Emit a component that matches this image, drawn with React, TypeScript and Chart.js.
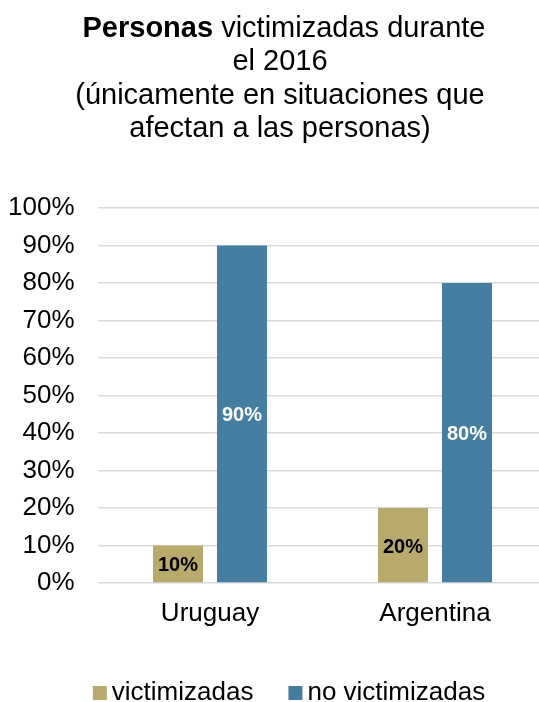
import React, { useEffect, useRef } from "react";
import { Chart, registerables } from "chart.js";

Chart.register(...registerables);

const categories = ["Uruguay", "Argentina"];
const seriesNames = ["victimizadas", "no victimizadas"];
const victimizadas = [10, 20];
const noVictimizadas = [90, 80];
const seriesColors = ["#B8A96C", "#467EA2"];
const labelColors = ["#000000", "#FFFFFF"];
const titleBold = "Personas";
const titleLines = [" victimizadas durante", "el 2016", "(únicamente en situaciones que", "afectan a las personas)"];

const FONT = '"Liberation Sans", Arial, sans-serif';
const VW = 539;
const W = 560;
const H = 702;

const titlePlugin = {
  id: "customTitle",
  afterDraw(chart: any) {
    const ctx = chart.ctx;
    const cx = 280;
    const baselines = [37, 70, 104, 137];
    ctx.save();
    ctx.fillStyle = "#000";
    ctx.textBaseline = "alphabetic";
    ctx.textAlign = "left";
    ctx.font = `bold 29px ${FONT}`;
    const wb = ctx.measureText(titleBold).width;
    ctx.font = `29px ${FONT}`;
    const wr = ctx.measureText(titleLines[0]).width;
    const x = 284 - (wb + wr) / 2;
    ctx.font = `bold 29px ${FONT}`;
    ctx.fillText(titleBold, x, baselines[0]);
    ctx.font = `29px ${FONT}`;
    ctx.fillText(titleLines[0], x + wb, baselines[0]);
    ctx.textAlign = "center";
    for (let i = 1; i < titleLines.length; i++) {
      ctx.fillText(titleLines[i], cx, baselines[i]);
    }
    ctx.restore();
  },
};

const dataLabelPlugin = {
  id: "dataLabels",
  afterDatasetsDraw(chart: any) {
    const ctx = chart.ctx;
    ctx.save();
    ctx.font = `bold 20px ${FONT}`;
    ctx.textAlign = "center";
    ctx.textBaseline = "middle";
    chart.data.datasets.forEach((ds: any, di: number) => {
      const meta = chart.getDatasetMeta(di);
      meta.data.forEach((bar: any, i: number) => {
        const v = ds.data[i];
        ctx.fillStyle = labelColors[di];
        ctx.fillText(`${v}%`, bar.x, (bar.y + bar.base) / 2 + 2);
      });
    });
    ctx.restore();
  },
};

const legendPlugin = {
  id: "customLegend",
  afterDraw(chart: any) {
    const ctx = chart.ctx;
    ctx.save();
    ctx.font = `26px ${FONT}`;
    ctx.textBaseline = "alphabetic";
    ctx.textAlign = "left";
    const box = 14;
    const boxGap = 5;
    const itemGap = 35;
    const widths = seriesNames.map((n) => ctx.measureText(n).width);
    const total = widths.reduce((a, w) => a + box + boxGap + w, 0) + itemGap * (seriesNames.length - 1);
    let x = 289 - total / 2;
    const baseline = 700;
    seriesNames.forEach((n, i) => {
      ctx.fillStyle = seriesColors[i];
      ctx.fillRect(x, baseline - box, box, box);
      ctx.fillStyle = "#000";
      ctx.fillText(n, x + box + boxGap, baseline);
      x += box + boxGap + widths[i] + itemGap;
    });
    ctx.restore();
  },
};

export default function App() {
  const ref = useRef<HTMLCanvasElement | null>(null);
  useEffect(() => {
    if (!ref.current) return;
    const chart = new Chart(ref.current, {
      type: "bar",
      data: {
        labels: categories,
        datasets: [
          {
            label: seriesNames[0],
            data: victimizadas,
            backgroundColor: seriesColors[0],
            categoryPercentage: 0.569,
            barPercentage: 0.78125,
          },
          {
            label: seriesNames[1],
            data: noVictimizadas,
            backgroundColor: seriesColors[1],
            categoryPercentage: 0.569,
            barPercentage: 0.78125,
          },
        ],
      },
      options: {
        responsive: false,
        animation: false,
        devicePixelRatio: 1,
        layout: { padding: { top: 208, right: W - 547.5, bottom: 0, left: 0 } },
        plugins: {
          legend: { display: false },
          title: { display: false },
          tooltip: { enabled: false },
        },
        scales: {
          x: {
            grid: { display: false, drawTicks: false },
            border: { display: false },
            ticks: { font: { family: FONT, size: 26 }, color: "#000", padding: 15 },
            afterFit: (scale: any) => {
              scale.height = H - 583;
            },
          },
          y: {
            min: 0,
            max: 100,
            grid: { color: "#D9D9D9", lineWidth: 1.5, drawTicks: false },
            border: { display: false },
            ticks: {
              stepSize: 10,
              font: { family: FONT, size: 26 },
              color: "#000",
              padding: 23,
              callback: (v: any) => `${v}%`,
            },
            afterFit: (scale: any) => {
              scale.width = 97.5;
            },
          },
        },
      },
      plugins: [titlePlugin, dataLabelPlugin, legendPlugin],
    });
    return () => chart.destroy();
  }, []);
  return (
    <div style={{ position: "fixed", left: 0, top: 0, width: VW, height: H, overflow: "hidden", background: "#fff" }}>
      <canvas ref={ref} width={W} height={H} style={{ display: "block", width: W, height: H }} />
    </div>
  );
}
